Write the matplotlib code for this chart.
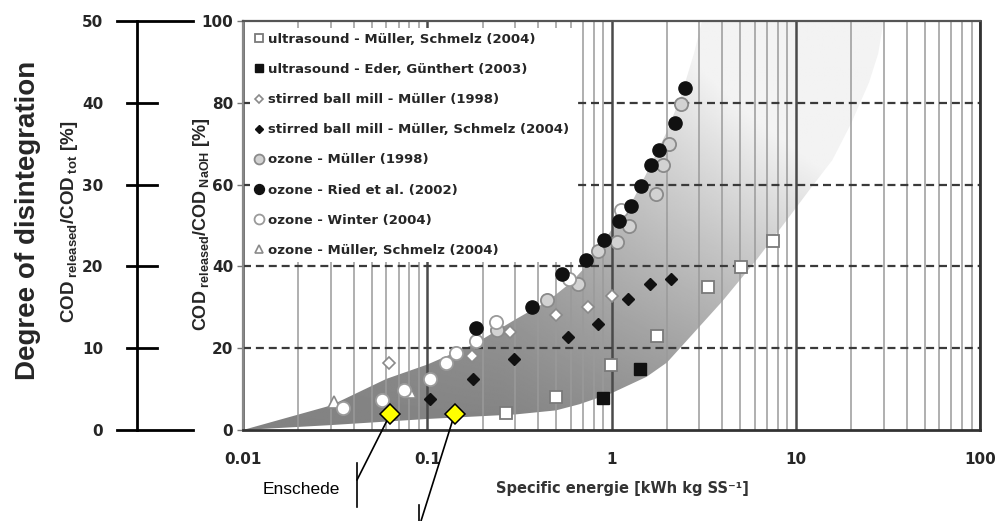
import numpy as np
import matplotlib
matplotlib.use("Agg")
import matplotlib.pyplot as plt
from matplotlib.patches import Polygon
from matplotlib.lines import Line2D

plt.rcParams["mathtext.fontset"] = "custom"
plt.rcParams["mathtext.rm"] = "Liberation Sans"
plt.rcParams["mathtext.bf"] = "Liberation Sans:bold"
plt.rcParams["mathtext.it"] = "Liberation Sans:italic"

# ---- data: specific energy [kWh/kg SS] vs COD released / COD NaOH [%] ----
us_mueller_x = [0.266, 0.50, 0.99, 1.77, 3.32, 5.04, 7.49]
us_mueller_y = [4.1, 8.0, 15.9, 22.9, 35.0, 39.8, 46.3]

us_eder_x = [0.90, 1.42]
us_eder_y = [7.9, 14.8]

sbm_1998_x = [0.062, 0.176, 0.283, 0.50, 0.75, 1.01]
sbm_1998_y = [16.3, 18.0, 24.0, 28.0, 30.1, 32.7]

sbm_2004_x = [0.103, 0.177, 0.294, 0.58, 0.84, 1.23, 1.62, 2.11]
sbm_2004_y = [7.5, 12.4, 17.3, 22.8, 25.8, 32.1, 35.8, 36.8]

oz_mueller_x = [0.24, 0.446, 0.66, 0.84, 1.07, 1.24, 1.75, 1.90, 2.05, 2.39]
oz_mueller_y = [24.4, 31.7, 35.6, 43.7, 46.0, 49.8, 57.7, 64.9, 70.0, 79.8]

oz_ried_x = [0.185, 0.37, 0.54, 0.73, 0.91, 1.10, 1.28, 1.45, 1.63, 1.82, 2.20, 2.50]
oz_ried_y = [25.0, 30.0, 38.2, 41.5, 46.5, 51.2, 54.8, 59.7, 64.8, 68.5, 75.0, 83.7]

oz_winter_x = [0.035, 0.057, 0.075, 0.103, 0.127, 0.144, 0.185, 0.237, 0.59, 1.13]
oz_winter_y = [5.3, 7.3, 9.8, 12.4, 16.5, 18.9, 21.8, 26.4, 36.8, 53.7]

oz_2004_x = [0.031, 0.081]
oz_2004_y = [6.8, 9.3]

enschede_x = [0.063, 0.141]
enschede_y = [3.9, 4.0]

labels = [
    "ultrasound - Müller, Schmelz (2004)",
    "ultrasound - Eder, Günthert (2003)",
    "stirred ball mill - Müller (1998)",
    "stirred ball mill - Müller, Schmelz (2004)",
    "ozone - Müller (1998)",
    "ozone - Ried et al. (2002)",
    "ozone - Winter (2004)",
    "ozone - Müller, Schmelz (2004)",
]

x_ticks = [0.01, 0.1, 1, 10, 100]
x_ticklabels = ["0.01", "0.1", "1", "10", "100"]
y_ticks = [0, 20, 40, 60, 80, 100]
y_dashed = [20, 40, 60, 80]
y2_ticks = [0, 10, 20, 30, 40, 50]

# outline of the shaded range of reported results
band_upper_x = [0.01, 0.03, 0.06, 0.1, 0.18, 0.3, 0.45, 0.6, 0.8, 1.0, 1.3, 1.6, 2.0, 2.4, 2.8, 3.1]
band_upper_y = [0, 6, 12.5, 16, 21, 27, 31.5, 36, 42, 49, 56, 64, 73, 82, 92, 100]
band_lower_x = [0.01, 0.03, 0.1, 0.3, 0.5, 0.67, 1.0, 1.55, 2.0, 2.64, 4.0, 6.1, 9, 12, 15.8, 20, 25, 28, 30]
band_lower_y = [0, 1.2, 2.7, 3.8, 4.8, 6.3, 9, 13, 16.5, 22.5, 31.5, 41.5, 51.5, 59, 66, 75, 85, 92, 100]

W, H = 998, 521
fig = plt.figure(figsize=(W / 100, H / 100), dpi=100)


def fx(px):
    return px / W


def fy(py):
    return 1 - py / H


TXT = "#262626"
TOP, BOT = 21, 430

ax = fig.add_axes([fx(243), fy(BOT), (980 - 243) / W, (BOT - TOP) / H])
ax.set_autoscale_on(False)
ax.set_xscale("log")
ax.set_xlim(0.01, 100)
ax.set_ylim(0, 100)

# gradient-filled band
n = 400
U, V = np.meshgrid(np.linspace(0, 1, n), np.linspace(0, 1, n))
t = 1.6 * U * V + 0.45 * np.clip(U - 0.35, 0, None)
shade = np.clip(0.51 + 0.44 * np.clip(t, 0, 1), 0, 0.97)
img = ax.imshow(shade, cmap="gray", vmin=0, vmax=1, extent=(0, 1, 0, 1),
                transform=ax.transAxes, origin="lower", aspect="auto",
                interpolation="bilinear", zorder=0.3)
outline = list(zip(band_upper_x, band_upper_y)) + list(zip(band_lower_x[::-1], band_lower_y[::-1]))
clip_poly = Polygon(outline, closed=True, transform=ax.transData)
img.set_clip_path(clip_poly)
ax.set_xlim(0.01, 100)
ax.set_ylim(0, 100)

# grid: solid verticals at every decade step, dashed horizontals
ax.set_axisbelow("line")
ax.xaxis.grid(True, which="major", color="#4a4a4a", lw=1.8)
ax.xaxis.grid(True, which="minor", color="#9a9a9a", lw=1.1)
ax.yaxis.grid(False)
for yv in y_dashed:
    ax.axhline(yv, color="#3a3a3a", lw=1.6, linestyle=(0, (3.6, 2.2)), zorder=1.6)

ax.set_xticks(x_ticks)
ax.set_xticklabels(x_ticklabels)
ax.set_yticks(y_ticks)
ax.tick_params(axis="x", which="both", length=0, pad=16, labelsize=11, labelcolor=TXT)
ax.tick_params(axis="y", which="major", length=4, width=1, color="#777777", pad=3,
               labelsize=11, labelcolor=TXT)
for lab in ax.get_xticklabels() + ax.get_yticklabels():
    lab.set_fontweight("bold")

for side, col, lw in [("top", "#555555", 1.6), ("right", "#333333", 2.0),
                      ("bottom", "#333333", 2.0), ("left", "#888888", 1.6)]:
    ax.spines[side].set_color(col)
    ax.spines[side].set_linewidth(lw)

# data series
ax.plot(us_mueller_x, us_mueller_y, "s", ms=8, mfc="white", mec="#7a7a7a", mew=1.3,
        label=labels[0], zorder=3)
ax.plot(us_eder_x, us_eder_y, "s", ms=8, mfc="#111111", mec="#111111", mew=1,
        label=labels[1], zorder=3)
ax.plot(sbm_1998_x, sbm_1998_y, "D", ms=6, mfc="white", mec="#8a8a8a", mew=1.2,
        label=labels[2], zorder=3)
ax.plot(sbm_2004_x, sbm_2004_y, "D", ms=6, mfc="#111111", mec="#111111", mew=1,
        label=labels[3], zorder=3)
ax.plot(oz_mueller_x, oz_mueller_y, "o", ms=9.5, mfc="#d2d2d2", mec="#8a8a8a", mew=1.3,
        label=labels[4], zorder=3)
ax.plot(oz_ried_x, oz_ried_y, "o", ms=9.5, mfc="#111111", mec="#111111", mew=1,
        label=labels[5], zorder=3.2)
ax.plot(oz_winter_x, oz_winter_y, "o", ms=9.5, mfc="white", mec="#9a9a9a", mew=1.3,
        label=labels[6], zorder=3.1)
ax.plot(oz_2004_x, oz_2004_y, "^", ms=8.5, mfc="white", mec="#8a8a8a", mew=1.2,
        label=labels[7], zorder=3)

leg = ax.legend(loc="upper left", bbox_to_anchor=(0.0, 1.0), borderaxespad=0.5,
                frameon=True, fancybox=False, facecolor="white", edgecolor="none",
                framealpha=1, prop={"weight": "bold", "size": 9.5}, labelcolor=TXT,
                handlelength=0.7, handletextpad=0.3, labelspacing=1.3,
                borderpad=0.4, markerscale=0.75)
leg.set_zorder(5)

# Enschede measurements with leader lines
ax.plot(enschede_x, enschede_y, "D", ms=10, mfc="#ffff00", mec="black", mew=1.1,
        zorder=6, clip_on=False)
ax.annotate("", xy=(enschede_x[0], enschede_y[0]), xycoords="data",
            xytext=(357, H - 480), textcoords="figure pixels",
            arrowprops=dict(arrowstyle="-", color="black", lw=1.2, shrinkA=0, shrinkB=0),
            annotation_clip=False, zorder=5.5)
ax.annotate("", xy=(enschede_x[1], enschede_y[1]), xycoords="data",
            xytext=(421, H - 521), textcoords="figure pixels",
            arrowprops=dict(arrowstyle="-", color="black", lw=1.2, shrinkA=0, shrinkB=0),
            annotation_clip=False, zorder=5.5)
fig.add_artist(Line2D([fx(357), fx(357)], [fy(463), fy(507)], transform=fig.transFigure,
                      color="black", lw=1.2))
fig.add_artist(Line2D([fx(419), fx(419)], [fy(505), fy(521)], transform=fig.transFigure,
                      color="black", lw=1.2))
fig.text(fx(301), fy(490), "Enschede", ha="center", va="center", fontsize=12.5,
         family="Liberation Sans", color="black")

# x label
fig.text(fx(622), fy(488), "Specific energie [kWh kg SS⁻¹]", ha="center", va="center",
         fontsize=10.5, fontweight="bold", color="#333333")

# y label of the plot axis
fig.text(fx(201), fy(224),
         r"$\mathbf{COD}_{\ \mathbf{released}}\mathbf{/COD}_{\ \mathbf{NaOH}}\ \mathbf{[\%]}$",
         rotation=90, ha="center", va="center", fontsize=13, color=TXT)

# secondary scale: COD released / COD tot
ax2 = fig.add_axes([fx(117), fy(BOT), (193 - 117) / W, (BOT - TOP) / H])
ax2.set_xlim(0, 1)
ax2.set_ylim(0, 50)
ax2.patch.set_visible(False)
for s in ax2.spines.values():
    s.set_visible(False)
ax2.set_xticks([])
ax2.set_yticks(y2_ticks)
ax2.tick_params(axis="y", length=0, pad=10, labelsize=11, labelcolor=TXT)
for lab in ax2.get_yticklabels():
    lab.set_fontweight("bold")
spine_x = (137 - 117) / 76
ax2.plot([spine_x, spine_x], [0, 50], color="black", lw=2, clip_on=False)
for v in y2_ticks:
    if v in (0, 50):
        ax2.plot([0, 1], [v, v], color="black", lw=2, clip_on=False)
    else:
        ax2.plot([(127 - 117) / 76, (157 - 117) / 76], [v, v], color="black", lw=2, clip_on=False)

fig.text(fx(69), fy(222),
         r"$\mathbf{COD}_{\ \mathbf{released}}\mathbf{/COD}_{\ \mathbf{tot}}\ \mathbf{[\%]}$",
         rotation=90, ha="center", va="center", fontsize=13.5, color=TXT)
fig.text(fx(28), fy(220), "Degree of disintegration", rotation=90, ha="center",
         va="center", fontsize=20, fontweight="bold", family="Liberation Sans", color=TXT)

fig.savefig("out.png", dpi=100)
